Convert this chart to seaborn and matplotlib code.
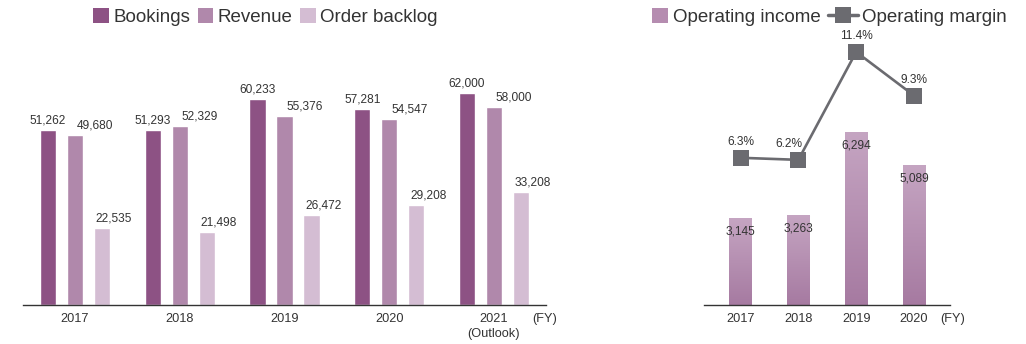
import numpy as np
import pandas as pd
import matplotlib
matplotlib.use("Agg")
import matplotlib.pyplot as plt
from matplotlib.patches import Patch
from matplotlib.lines import Line2D
from matplotlib.colors import LinearSegmentedColormap
import seaborn as sns

# ---- data ----
years_left = ["2017", "2018", "2019", "2020", "2021\n(Outlook)"]
bookings = [51262, 51293, 60233, 57281, 62000]
revenue = [49680, 52329, 55376, 54547, 58000]
order_backlog = [22535, 21498, 26472, 29208, 33208]
series_names = ["Bookings", "Revenue", "Order backlog"]

years_right = ["2017", "2018", "2019", "2020"]
operating_income = [3145, 3263, 6294, 5089]
operating_margin = [6.3, 6.2, 11.4, 9.3]

# ---- style ----
sns.set_theme(style="white")
plt.rcParams["font.family"] = ["Liberation Sans", "DejaVu Sans"]
TEXT = "#333333"
BAR_COLORS = ["#8d5284", "#b088ab", "#d4bdd3"]
INCOME_TOP, INCOME_BOTTOM = "#c5a5c2", "#a67aa1"
LINE_COLOR = "#6b6b70"

W, H = 1026, 344
fig = plt.figure(figsize=(W / 100, H / 100), dpi=100)


def px_axes(x0, x1, y_top, y_bottom):
    return fig.add_axes([x0 / W, 1 - y_bottom / H, (x1 - x0) / W, (y_bottom - y_top) / H])


def finish_axis(ax):
    for side in ("left", "right", "top"):
        ax.spines[side].set_visible(False)
    ax.spines["bottom"].set_color(TEXT)
    ax.spines["bottom"].set_linewidth(1.0)
    ax.set_yticks([])
    ax.set_xlabel("")
    ax.set_ylabel("")
    ax.tick_params(axis="x", length=0, pad=5.5, labelsize=9.2, labelcolor=TEXT)


# ---- left: bookings / revenue / backlog ----
ax1 = px_axes(23, 546, 40, 305)
df = pd.DataFrame({
    "year": np.repeat(years_left, 3),
    "series": series_names * len(years_left),
    "value": np.ravel(np.column_stack([bookings, revenue, order_backlog])),
})
sns.barplot(data=df, x="year", y="value", hue="series", hue_order=series_names,
            palette=BAR_COLORS, width=0.773, gap=0.39, saturation=1,
            legend=False, ax=ax1)
ax1.set_xlim(-0.497, 4.497)
ax1.set_ylim(0, 265 / 0.003414)
finish_axis(ax1)
for lbl in ax1.get_xticklabels():
    lbl.set_linespacing(1.35)

label_dx = [0, 14.4, 8.6]  # points
for container, dx in zip(ax1.containers, label_dx):
    for patch in container.patches:
        h = patch.get_height()
        ax1.annotate(f"{h:,.0f}", (patch.get_x() + patch.get_width() / 2, h),
                     xytext=(dx, 2.5), textcoords="offset points",
                     ha="center", va="bottom", fontsize=8.6, color=TEXT)

fig.text(532 / W, 1 - 319 / H, "(FY)", ha="left", va="center", fontsize=9.2, color=TEXT)

# ---- right: operating income / margin ----
ax2 = px_axes(704, 950, 40, 305)
sns.barplot(x=years_right, y=operating_income, color=INCOME_BOTTOM, width=0.39,
            saturation=1, ax=ax2)
ax2.set_xlim(-0.632, 3.623)
ax2.set_ylim(0, 265 / 0.02735)
finish_axis(ax2)

# vertical gradient fill on each income bar
cmap = LinearSegmentedColormap.from_list("inc", [INCOME_BOTTOM, INCOME_TOP])
grad = np.linspace(0, 1, 256).reshape(-1, 1)
for patch in ax2.patches:
    x0, w, h = patch.get_x(), patch.get_width(), patch.get_height()
    ax2.imshow(grad, cmap=cmap, origin="lower", aspect="auto",
               extent=(x0, x0 + w, 0, h), zorder=patch.get_zorder() + 0.1)
    ax2.annotate(f"{h:,.0f}", (x0 + w / 2, h), xytext=(0, -5), textcoords="offset points",
                 ha="center", va="top", fontsize=8.6, color=TEXT, zorder=5)
ax2.set_xlim(-0.632, 3.623)
ax2.set_ylim(0, 265 / 0.02735)

axt = ax2.twinx()
sns.lineplot(x=years_right, y=operating_margin, sort=False, color=LINE_COLOR,
             linewidth=1.9, marker="s", markersize=11.5, markeredgewidth=0,
             ax=axt, zorder=6)
axt.set_ylim(-0.795, 11.976)
axt.set_xlim(-0.632, 3.623)
axt.axis("off")
margin_dx = [0, -7, 0, 0]
for i, (v, dx) in enumerate(zip(operating_margin, margin_dx)):
    axt.annotate(f"{v}%", (i, v), xytext=(dx, 7.2), textcoords="offset points",
                 ha="center", va="bottom", fontsize=8.6, color=TEXT)

fig.text(940 / W, 1 - 319 / H, "(FY)", ha="left", va="center", fontsize=9.2, color=TEXT)

# ---- legends ----
legend_kw = dict(loc="center left", frameon=False, fontsize=13.5, labelcolor=TEXT,
                 borderpad=0, borderaxespad=0, handleheight=0.8)
bar_handles = [Patch(facecolor=c, edgecolor="none") for c in BAR_COLORS]
fig.legend(bar_handles, series_names, bbox_to_anchor=(93 / W, 1 - 17 / H), ncol=3,
           handlelength=0.83, handletextpad=0.25, columnspacing=0.4, **legend_kw)

fig.legend([Patch(facecolor="#b58cb0", edgecolor="none")], ["Operating income"],
           bbox_to_anchor=(652 / W, 1 - 17 / H), handlelength=0.85,
           handletextpad=0.27, **legend_kw)
fig.legend([Line2D([], [], color=LINE_COLOR, linewidth=2.5, marker="s",
                   markersize=11, markeredgewidth=0)], ["Operating margin"],
           bbox_to_anchor=(828 / W, 1 - 17 / H), handlelength=1.6,
           handletextpad=0.2, **legend_kw)

fig.savefig("out.png", dpi=100, facecolor="white")
